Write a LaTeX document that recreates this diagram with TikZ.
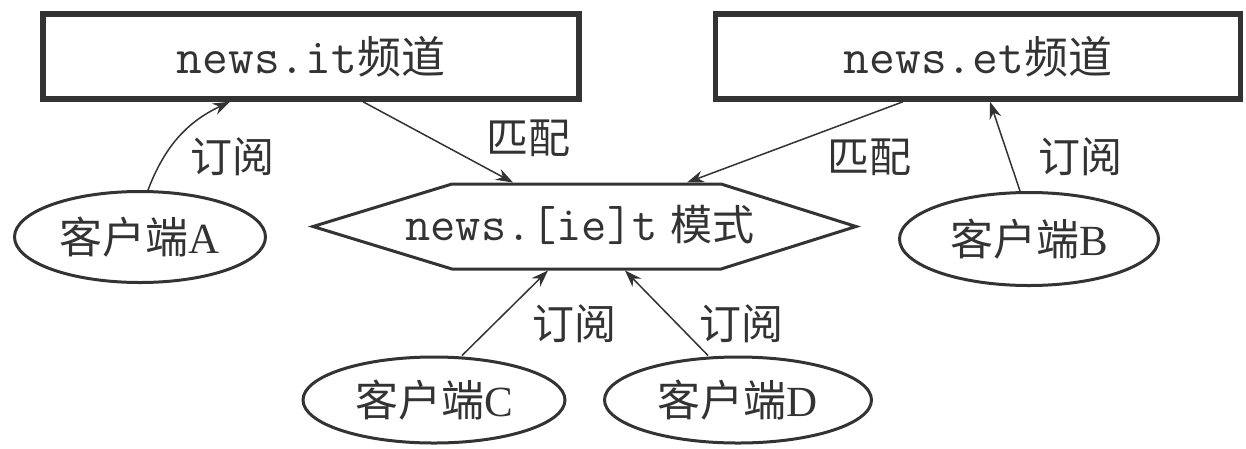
\documentclass[tikz,border=0pt]{standalone}
\usepackage{fontspec}
\setmainfont{Liberation Serif}
\newfontfamily\cjk{Noto Sans CJK SC}
\usetikzlibrary{arrows.meta,shapes.geometric}
\definecolor{ink}{HTML}{333333}
\newcommand{\mono}[1]{{\ttfamily\fontsize{50}{56}\selectfont #1}}
\begin{document}
\begin{tikzpicture}[x=1pt,y=-1pt,
  chanbox/.style={draw=ink, line width=5.5pt, rectangle, inner sep=0pt, minimum height=85pt, text=ink, font=\fontsize{44}{50}\selectfont},
  client/.style={draw=ink, ellipse, line width=3pt, inner sep=0pt, text=ink, font=\fontsize{43}{50}\selectfont},
  conn/.style={draw=ink, line width=1.5pt, -{Stealth[length=17pt,width=12pt]}},
  lbl/.style={font=\cjk\fontsize{42}{48}\selectfont, text=ink, inner sep=0pt}]
\useasboundingbox (0,0) rectangle (1246,448);
% channels
\node[chanbox, minimum width=536pt] (box1) at (311,56.5) {\mono{news.it}{\cjk 频道}};
\node[chanbox, minimum width=525pt] (box2) at (978,56.5) {\mono{news.et}{\cjk 频道}};
% pattern hexagon
\node[inner sep=0pt, outer sep=0pt, minimum width=269pt, minimum height=85pt] (hex) at (586.5,226.5) {};
\draw[ink, line width=3pt, line join=miter]
  (hex.north west) -- (hex.north east) -- ([xshift=135pt]hex.east) -- (hex.south east)
  -- (hex.south west) -- ([xshift=-139pt]hex.west) -- cycle;
\node[text=ink, font=\fontsize{42}{48}\selectfont, inner sep=0pt] (hext) at (580,225)
  {{\ttfamily\fontsize{49}{56}\selectfont news.[ie]t}\hspace{13pt}{\cjk 模式}};
% clients
\node[client, minimum width=251pt, minimum height=91pt] (A) at (140,237) {{\cjk 客户端}A};
\node[client, minimum width=259pt, minimum height=93pt] (B) at (1029,239) {{\cjk 客户端}B};
\node[client, minimum width=262pt, minimum height=86pt] (C) at (434,400) {{\cjk 客户端}C};
\node[client, minimum width=267pt, minimum height=86pt] (D) at (738,400) {{\cjk 客户端}D};
% endpoints
\coordinate (a1) at ([xshift=8pt]A.north);
\coordinate (b1in) at ([xshift=-81pt]box1.south);
\coordinate (b1out) at ([xshift=52pt]box1.south);
\coordinate (h1) at ([xshift=61pt,yshift=1.5pt]hex.north west);
\coordinate (b2out) at ([xshift=-75pt]box2.south);
\coordinate (h2) at ([xshift=-34pt,yshift=1.5pt]hex.north east);
\coordinate (bb) at ([xshift=-9pt]B.north);
\coordinate (b2in) at ([xshift=12pt]box2.south);
\coordinate (cc) at ([xshift=28pt]C.north);
\coordinate (h3) at ([xshift=96pt,yshift=-1.5pt]hex.south west);
\coordinate (dd) at ([xshift=-30pt]D.north);
\coordinate (h4) at ([xshift=173pt,yshift=-1.5pt]hex.south west);
% connectors
\draw[conn] (a1) to[bend left=22] (b1in);
\draw[conn] (b1out) -- (h1);
\draw[conn] (b2out) -- (h2);
\draw[conn] (bb) -- (b2in);
\draw[conn] (cc) -- (h3);
\draw[conn] (dd) -- (h4);
% labels
\node[lbl] (l1) at (232,157) {订阅};
\node[lbl] (l2) at (528,138) {匹配};
\node[lbl] (l3) at (869,157) {匹配};
\node[lbl] (l4) at (1080,157) {订阅};
\node[lbl] (l5) at (574,324) {订阅};
\node[lbl] (l6) at (741,324) {订阅};
\end{tikzpicture}
\end{document}
